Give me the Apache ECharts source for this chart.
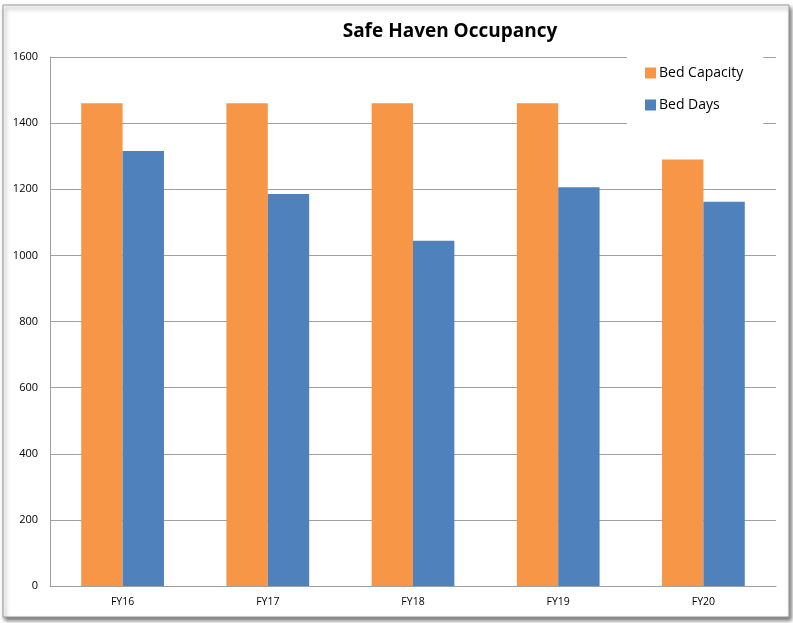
<!DOCTYPE html>
<html>
<head>
<meta charset="utf-8">
<script src="https://cdn.jsdelivr.net/npm/echarts@6/dist/echarts.min.js"></script>
<style>
  html, body { margin: 0; padding: 0; background: #fff; }
  #chart { width: 793px; height: 623px; }
</style>
</head>
<body>
<div id="chart"></div>
<script>
// data
const categories = ['FY16', 'FY17', 'FY18', 'FY19', 'FY20']
const bedCapacity = [1460, 1460, 1460, 1460, 1290]
const bedDays = [1316, 1186, 1044, 1206, 1162]
const yTicks = { min: 0, max: 1600, interval: 200 }

const font = '"Open Sans", "Liberation Sans", sans-serif'

const myChart = echarts.init(document.getElementById('chart'))
const option = {
  backgroundColor: '#ffffff',
  animation: false,
  textStyle: { fontFamily: font },
  graphic: [
    {
      type: 'rect',
      z: -10,
      shape: { x: 3, y: 5, width: 786, height: 612 },
      style: {
        fill: '#ffffff',
        stroke: '#9a9a9a',
        lineWidth: 1,
        shadowBlur: 4,
        shadowOffsetX: 2,
        shadowOffsetY: 3,
        shadowColor: 'rgba(0,0,0,0.55)'
      }
    }
  ],
  title: {
    text: 'Safe Haven Occupancy',
    left: 445,
    textAlign: 'center',
    top: 17,
    textStyle: { fontFamily: font, fontSize: 19, fontWeight: 'bold', color: '#000' }
  },
  legend: {
    orient: 'vertical',
    left: 627,
    top: 57,
    padding: [9, 20, 17, 18],
    backgroundColor: '#ffffff',
    itemWidth: 11,
    itemHeight: 11,
    itemGap: 18,
    icon: 'rect',
    textStyle: { fontFamily: font, fontSize: 14, color: '#000', padding: [0, 0, 0, -2] },
    data: ['Bed Capacity', 'Bed Days']
  },
  grid: { left: 50, right: 17, top: 57, bottom: 37 },
  xAxis: {
    type: 'category',
    data: categories,
    axisLine: { lineStyle: { color: '#a0a0a0' } },
    axisTick: { show: false },
    axisLabel: { color: '#000', fontSize: 10.5, margin: 11, fontFamily: font }
  },
  yAxis: {
    type: 'value',
    min: yTicks.min,
    max: yTicks.max,
    interval: yTicks.interval,
    axisLine: { show: true, lineStyle: { color: '#a0a0a0' } },
    axisTick: { show: false },
    splitLine: { lineStyle: { color: '#a0a0a0' } },
    axisLabel: { color: '#000', fontSize: 11, margin: 12, fontFamily: font, formatter: v => String(v) }
  },
  series: [
    {
      name: 'Bed Capacity',
      type: 'bar',
      barGap: '0%',
      barCategoryGap: '43%',
      itemStyle: { color: '#f79646' },
      data: bedCapacity
    },
    {
      name: 'Bed Days',
      type: 'bar',
      itemStyle: { color: '#4f81bd' },
      data: bedDays
    }
  ]
}
myChart.setOption(option)
</script>
</body>
</html>
